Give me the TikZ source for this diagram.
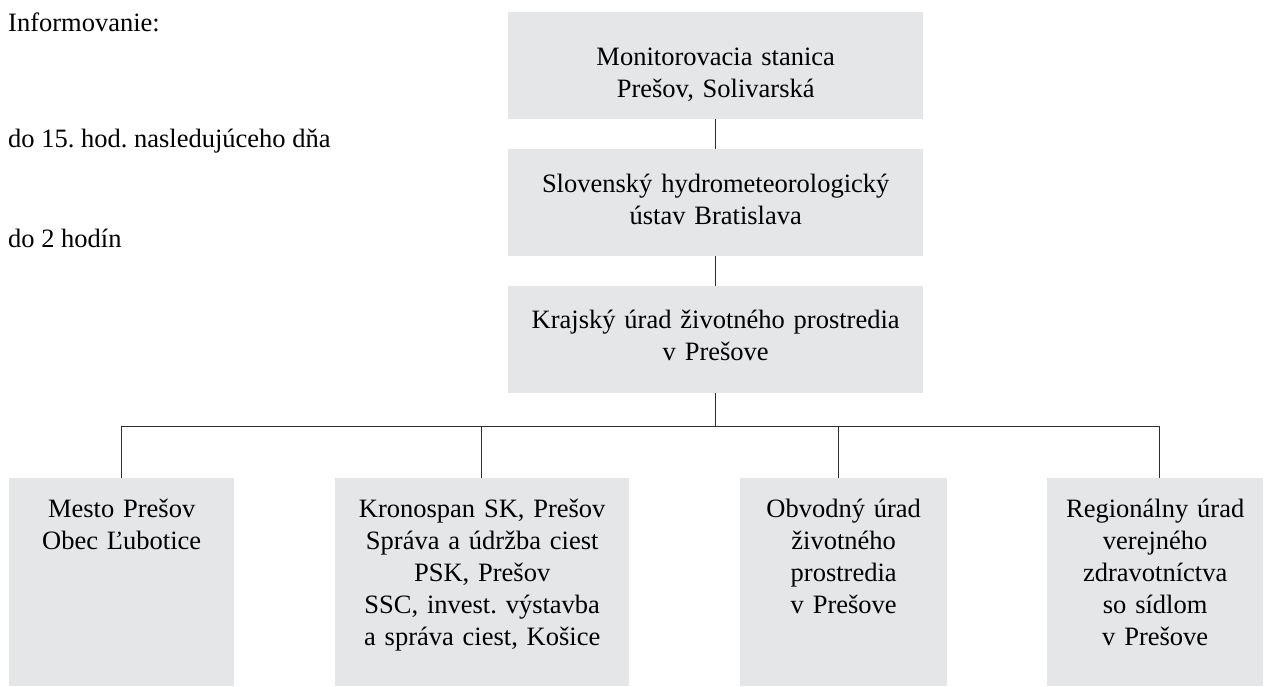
\documentclass[tikz,border=0pt]{standalone}
\usepackage{fontspec}
\setmainfont{Liberation Serif}
\usetikzlibrary{calc}
\definecolor{boxgray}{RGB}{229,230,232}
\definecolor{linegray}{RGB}{45,45,45}
\newcommand\diafont{\fontsize{26.5}{32}\selectfont\frenchspacing}
\begin{document}
\begin{tikzpicture}[x=1pt,y=-1pt,
  box/.style={fill=boxgray, inner sep=0pt, align=center, font=\diafont, anchor=north west},
  lbl/.style={inner sep=0pt, anchor=base west, font=\diafont},
  conn/.style={draw=linegray, line width=1.3pt}]
\useasboundingbox (0,0) rectangle (1269,686);
% left labels
\node[lbl] (l0) at (8,31) {Informovanie:};
\node[lbl] (l1) at (8,147) {do 15. hod. nasledujúceho dňa};
\node[lbl] (l2) at (8,247) {do 2 hodín};
% top chain
\node[box, text width=415pt, text height=53pt, text depth=54pt] (mon) at (508,12)
  {Monitorovacia stanica\\Prešov, Solivarská};
\node[box, text width=415pt, text height=43pt, text depth=64pt] (shmu) at (508,149)
  {Slovenský hydrometeorologický\\ústav Bratislava};
\node[box, text width=415pt, text height=42pt, text depth=65pt] (kuzp) at (508,286)
  {Krajský úrad životného prostredia\\v Prešove};
% bottom row
\node[box, text width=225pt, text height=39pt, text depth=169pt] (b1) at (9,478)
  {Mesto Prešov\\Obec Ľubotice};
\node[box, text width=294pt, text height=39pt, text depth=169pt] (b2) at (335,478)
  {Kronospan SK, Prešov\\Správa a údržba ciest\\PSK, Prešov\\SSC, invest. výstavba\\a správa ciest, Košice};
\node[box, text width=207pt, text height=39pt, text depth=169pt] (b3) at (740,478)
  {Obvodný úrad\\životného\\prostredia\\v Prešove};
\node[box, text width=216pt, text height=39pt, text depth=169pt] (b4) at (1047,478)
  {Regionálny úrad\\verejného\\zdravotníctva\\so sídlom\\v Prešove};
% connectors
\draw[conn] (mon.south) -- (shmu.north);
\draw[conn] (shmu.south) -- (kuzp.north);
\coordinate (bus) at ($(kuzp.south)+(0,33)$);
\coordinate (d1) at ($(b1.north)+(-0.5,0)$);
\coordinate (d2) at ($(b2.north)+(-1,0)$);
\coordinate (d3) at ($(b3.north)+(-5.5,0)$);
\coordinate (d4) at ($(b4.north)+(4,0)$);
\draw[conn] (kuzp.south) -- (bus);
\draw[conn] (d1) |- (d4 |- bus) -- (d4);
\draw[conn] (d2) -- (d2 |- bus);
\draw[conn] (d3) -- (d3 |- bus);
\end{tikzpicture}
\end{document}
